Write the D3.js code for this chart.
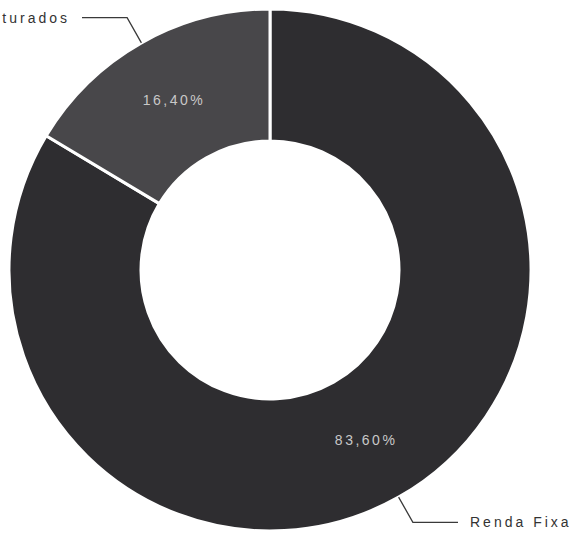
<!DOCTYPE html>
<html>
<head>
<meta charset="utf-8">
<script src="https://cdn.jsdelivr.net/npm/d3@7"></script>
<style>
  body { margin: 0; background: #fff; }
</style>
</head>
<body>
<div id="chart"></div>
<script>
var categories = ["Renda Fixa", "Estruturados"];
var shares = [83.60, 16.40];
var valueLabels = ["83,60%", "16,40%"];

var chartData = [];
for (i = 0; i < categories.length; i++) {
    chartData[i] = new Object();
    chartData[i].name = categories[i];
    chartData[i].value = shares[i];
    chartData[i].label = valueLabels[i];
}

const width = 575;
const height = 533;
const cx = 270;
const cy = 270;
const outerR = 261;
const innerR = 129;
const elbowR = 290;

const colours = d3.scaleOrdinal()
    .domain(categories)
    .range(["#2e2d30", "#48474a"]);

const pie = d3.pie()
    .sort(null)
    .value((d) => d.value);

const arc = d3.arc()
    .innerRadius(innerR)
    .outerRadius(outerR);

let svg = d3.select('#chart')
    .append('svg')
        .attr('width', width)
        .attr('height', height);

let g = svg.append('g')
    .attr('transform', `translate(${cx}, ${cy})`);

const arcs = pie(chartData);

g.selectAll('path')
    .data(arcs)
    .enter()
    .append('path')
        .attr('d', arc)
        .attr('fill', (d) => colours(d.data.name))
        .attr('stroke', '#fff')
        .attr('stroke-width', 3);

// percentage labels in the middle of the ring
g.selectAll('text.pct')
    .data(arcs)
    .enter()
    .append('text')
        .attr('class', 'pct')
        .attr('transform', (d) => `translate(${arc.centroid(d)})`)
        .attr('text-anchor', 'middle')
        .attr('dy', '0.35em')
        .style('font-family', 'Arial, "Liberation Sans", sans-serif')
        .style('font-size', '14px')
        .style('letter-spacing', '2.5px')
        .style('fill', '#c8c8c8')
        .text((d) => d.data.label);

// leader lines + category names
function midAngle(d) { return (d.startAngle + d.endAngle) / 2; }
function side(d) { return Math.sin(midAngle(d)) > 0 ? 1 : -1; }

g.selectAll('polyline')
    .data(arcs)
    .enter()
    .append('polyline')
        .attr('points', function (d) {
            const a = midAngle(d);
            const p0 = [Math.sin(a) * outerR, -Math.cos(a) * outerR];
            const p1 = [Math.sin(a) * elbowR, -Math.cos(a) * elbowR];
            const p2 = [side(d) * 188, p1[1]];
            return [p0, p1, p2].map((p) => p.join(',')).join(' ');
        })
        .attr('fill', 'none')
        .attr('stroke', '#3a3a3a')
        .attr('stroke-width', 1.3);

g.selectAll('text.cat')
    .data(arcs)
    .enter()
    .append('text')
        .attr('class', 'cat')
        .attr('x', (d) => side(d) * 200)
        .attr('y', (d) => -Math.cos(midAngle(d)) * elbowR)
        .attr('dy', '0.35em')
        .attr('text-anchor', (d) => side(d) > 0 ? 'start' : 'end')
        .style('font-family', 'Arial, "Liberation Sans", sans-serif')
        .style('font-size', '14px')
        .style('letter-spacing', '3px')
        .style('fill', '#333')
        .text((d) => d.data.name);
</script>
</body>
</html>
